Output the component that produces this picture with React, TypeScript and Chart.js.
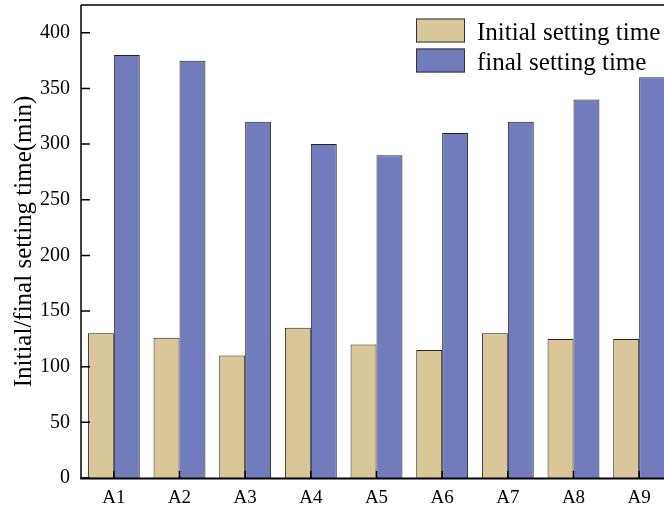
import React, { useEffect, useRef } from 'react';
import { Chart, registerables } from 'chart.js';

Chart.register(...registerables);

const categories = ['A1', 'A2', 'A3', 'A4', 'A5', 'A6', 'A7', 'A8', 'A9'];
const initialSetting = [130, 126, 110, 135, 120, 115, 130, 125, 125];
const finalSetting = [380, 375, 320, 300, 290, 310, 320, 340, 360];
const yTickValues = [0, 50, 100, 150, 200, 250, 300, 350, 400];
const seriesNames = ['Initial setting time', 'final setting time'];
const seriesColors = ['#D9C699', '#717CBD'];
const yTitle = 'Initial/final setting time(min)';

const FONT = '"Liberation Serif", "Times New Roman", serif';

const framePlugin = {
  id: 'frame',
  afterDatasetsDraw(chart: any) {
    const { ctx, chartArea, scales } = chart;
    const { left, right, top, bottom } = chartArea;
    const x = scales.x;
    const y = scales.y;
    ctx.save();
    ctx.strokeStyle = '#000';
    ctx.lineWidth = 1.5;
    ctx.beginPath();
    ctx.moveTo(left, top);
    ctx.lineTo(right, top);
    ctx.lineTo(right, bottom);
    ctx.stroke();
    ctx.beginPath();
    ctx.moveTo(left, top);
    ctx.lineTo(left, bottom + 1);
    ctx.stroke();
    ctx.lineWidth = 2;
    ctx.beginPath();
    ctx.moveTo(left - 0.75, bottom + 0.5);
    ctx.lineTo(right, bottom + 0.5);
    ctx.stroke();
    ctx.lineWidth = 1.5;
    ctx.beginPath();
    yTickValues.forEach((v) => {
      const py = y.getPixelForValue(v);
      ctx.moveTo(left, py);
      ctx.lineTo(left + 9, py);
    });
    categories.forEach((_, i) => {
      const px = x.getPixelForValue(i);
      ctx.moveTo(px, bottom);
      ctx.lineTo(px, bottom - 7);
    });
    ctx.stroke();
    ctx.restore();
  },
  afterDraw(chart: any) {
    const { ctx } = chart;
    ctx.save();
    ctx.font = `25px ${FONT}`;
    ctx.textBaseline = 'alphabetic';
    ctx.textAlign = 'left';
    seriesNames.forEach((name, i) => {
      const by = 18.5 + i * 30;
      ctx.fillStyle = seriesColors[i];
      ctx.fillRect(416, by, 49, 24);
      ctx.strokeStyle = '#333';
      ctx.lineWidth = 1;
      ctx.strokeRect(416.5, by + 0.5, 48, 23);
      ctx.fillStyle = '#000';
      ctx.fillText(name, 477, 39.5 + i * 30);
    });
    ctx.restore();
  },
};

export default function App() {
  const canvasRef = useRef<HTMLCanvasElement | null>(null);

  useEffect(() => {
    const canvas = canvasRef.current;
    if (!canvas) return;
    const chart = new Chart(canvas, {
      type: 'bar',
      data: {
        labels: categories,
        datasets: [
          {
            label: seriesNames[0],
            data: initialSetting,
            backgroundColor: seriesColors[0],
            borderColor: '#222',
            borderWidth: 1,
            barPercentage: 1,
            categoryPercentage: 0.79,
          },
          {
            label: seriesNames[1],
            data: finalSetting,
            backgroundColor: seriesColors[1],
            borderColor: '#222',
            borderWidth: 1,
            barPercentage: 1,
            categoryPercentage: 0.79,
          },
        ],
      },
      options: {
        responsive: false,
        animation: false,
        devicePixelRatio: 1,
        layout: { padding: { left: 0, top: 5, right: 8, bottom: 0 } },
        plugins: {
          legend: { display: false },
          tooltip: { enabled: false },
        },
        scales: {
          x: {
            offset: true,
            grid: { display: false, drawTicks: false },
            border: { display: false },
            ticks: {
              color: '#000',
              padding: 9,
              font: { family: FONT, size: 19 },
              maxRotation: 0,
            },
            afterFit(scale: any) {
              scale.height = 30;
              scale.paddingLeft = 0;
              scale.paddingRight = 0;
            },
          },
          y: {
            min: 0,
            max: 425,
            grid: { display: false, drawTicks: false },
            border: { display: false },
            ticks: {
              stepSize: 50,
              color: '#000',
              padding: 11,
              font: { family: FONT, size: 20 },
            },
            afterBuildTicks(scale: any) {
              scale.ticks = yTickValues.map((v) => ({ value: v }));
            },
            title: {
              display: true,
              text: yTitle,
              color: '#000',
              font: { family: FONT, size: 25 },
              padding: { top: 9, bottom: 0 },
            },
            afterFit(scale: any) {
              scale.width = 81;
              scale.paddingTop = 0;
              scale.paddingBottom = 0;
            },
          },
        },
      },
      plugins: [framePlugin],
    });
    return () => chart.destroy();
  }, []);

  return (
    <div style={{ position: 'fixed', left: 0, top: 0, width: 680, height: 508, background: '#fff' }}>
      <canvas ref={canvasRef} width={680} height={508} />
    </div>
  );
}
